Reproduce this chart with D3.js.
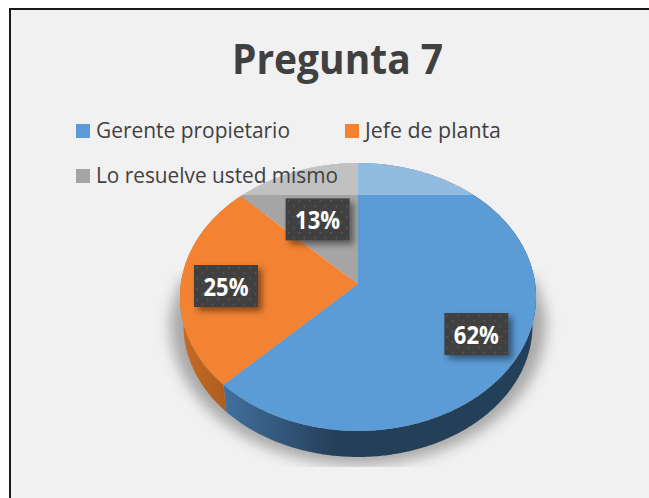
<!DOCTYPE html>
<html><head><meta charset="utf-8">
<script src="https://cdn.jsdelivr.net/npm/d3@7/dist/d3.min.js"></script>
<style>html,body{margin:0;padding:0;background:#fff}svg{display:block}text{font-family:"Open Sans",sans-serif}</style>
</head><body><svg id="c" width="649" height="498"></svg>
<script>
const title = "Pregunta 7";
const categories = ["Gerente propietario", "Jefe de planta", "Lo resuelve usted mismo"];
const values = [62.5, 25, 12.5];
const valueLabels = ["62%", "25%", "13%"];
const colors = ["#5b9bd6", "#f38232", "#a5a5a5"];

const W = 649, H = 498;
const svg = d3.select("#c");
const defs = svg.append("defs");

// background + frame
svg.append("rect").attr("width", W).attr("height", H).attr("fill", "#fff");
svg.append("rect").attr("x", 10).attr("y", 9).attr("width", W + 20).attr("height", H + 20)
  .attr("fill", "#f1f1f1").attr("stroke", "#1a1a1a").attr("stroke-width", 2);

// gradients, filters, pattern
const gb = defs.append("linearGradient").attr("id", "wallBlue").attr("gradientUnits", "userSpaceOnUse")
  .attr("x1", 224).attr("x2", 335).attr("y1", 0).attr("y2", 0);
gb.append("stop").attr("offset", 0).attr("stop-color", "#41709f");
gb.append("stop").attr("offset", 1).attr("stop-color", "#243f58");
const go = defs.append("linearGradient").attr("id", "wallOrange").attr("gradientUnits", "userSpaceOnUse")
  .attr("x1", 180).attr("x2", 228).attr("y1", 0).attr("y2", 0);
go.append("stop").attr("offset", 0).attr("stop-color", "#c66c26");
go.append("stop").attr("offset", 1).attr("stop-color", "#ad5d1e");
defs.append("filter").attr("id", "blurS").attr("x", "-20%").attr("y", "-20%").attr("width", "140%").attr("height", "140%")
  .append("feGaussianBlur").attr("stdDeviation", 7);
const fb = defs.append("filter").attr("id", "boxS").attr("x", "-30%").attr("y", "-30%").attr("width", "170%").attr("height", "180%");
fb.append("feDropShadow").attr("dx", 4).attr("dy", 4).attr("stdDeviation", 3).attr("flood-color", "#000").attr("flood-opacity", 0.45);
defs.append("clipPath").attr("id", "shClip").append("rect").attr("x", 150).attr("y", 270).attr("width", 420).attr("height", 197);
const pat = defs.append("pattern").attr("id", "dots").attr("patternUnits", "userSpaceOnUse").attr("width", 10.6).attr("height", 10.6);
pat.append("rect").attr("width", 10.6).attr("height", 10.6).attr("fill", "#404040");
[[2, 2], [7.3, 7.3]].forEach(p => pat.append("rect").attr("x", p[0]).attr("y", p[1]).attr("width", 1.6).attr("height", 1.6).attr("fill", "#5c5c5c"));

// projection: unit circle seen in perspective; the pie centre is the apex
const apexX = 358, apexY = 284, k = -0.0968;
const sx = d3.scaleLinear().domain([0, 1]).range([0, 177.2]);
const sy = d3.scaleLinear().domain([0, 1]).range([0, 132.7]);
function proj(theta, r = 1, s = 1, d = 0) {
  const u = r * Math.sin(theta), v = -r * Math.cos(theta), w = 1 + k * v;
  return [apexX + s * sx(u) / w, apexY + s * sy(v) / w + d];
}
const arcs = d3.pie().sort(null).value(d => d)(values);
const sweep = (a, b) => d3.range(a, b, 0.01).concat([b]);
const line = d3.line().curve(d3.curveLinear);
const S = 0.98, D = 29;

// shadow
const lowStart = Math.PI * 0.5, lowEnd = Math.PI * 1.5;
const shPts = sweep(lowStart, lowEnd).map(t => proj(t, 1, 1.055, 26));
svg.append("g").attr("clip-path", "url(#shClip)").append("path")
  .attr("d", line([[534, 278], ...shPts, [182, 278]]) + "Z")
  .attr("fill", "#000").attr("fill-opacity", 0.3).attr("filter", "url(#blurS)");

// walls
const wallFill = ["url(#wallBlue)", "url(#wallOrange)", colors[2]];
arcs.forEach((a, i) => {
  const ang = sweep(a.startAngle, a.endAngle);
  const pts = ang.map(t => proj(t)).concat(ang.slice().reverse().map(t => proj(t, 1, S, D)));
  svg.append("path").attr("d", line(pts) + "Z").attr("fill", wallFill[i]);
});

// top faces
arcs.forEach((a, i) => {
  const pts = [[apexX, apexY], ...sweep(a.startAngle, a.endAngle).map(t => proj(t))];
  svg.append("path").attr("d", line(pts) + "Z").attr("fill", colors[i]);
});

// data labels
const labelR = [0.71, 0.745, 0.58], labelDx = [-1, 0, -3], labelDy = [13, 2, 3];
const boxW = 64, boxH = 42;
arcs.forEach((a, i) => {
  const c = proj((a.startAngle + a.endAngle) / 2, labelR[i]);
  const g = svg.append("g").attr("transform", `translate(${c[0] + labelDx[i]},${c[1] + labelDy[i]})`);
  g.append("rect").attr("x", -boxW / 2).attr("y", -boxH / 2).attr("width", boxW).attr("height", boxH)
    .attr("fill", "url(#dots)").attr("filter", "url(#boxS)");
  g.append("text").attr("text-anchor", "middle").attr("y", 9.5).attr("fill", "#fff")
    .attr("font-size", 25.5).attr("font-weight", 700)
    .attr("textLength", 45).attr("lengthAdjust", "spacingAndGlyphs").text(valueLabels[i]);
});

// translucent legend area
svg.append("rect").attr("x", 66).attr("y", 112).attr("width", 480).attr("height", 83)
  .attr("fill", "#f1f1f1").attr("fill-opacity", 0.37);

// title
svg.append("text").attr("x", 337.5).attr("y", 74).attr("text-anchor", "middle")
  .attr("font-size", 41).attr("font-weight", 700).attr("fill", "#404040")
  .attr("textLength", 211).attr("lengthAdjust", "spacingAndGlyphs").text(title);

// legend
const legX = [76, 345, 76], legY = [124, 124, 169], legW = [194, 136, 242];
categories.forEach((c, i) => {
  svg.append("rect").attr("x", legX[i]).attr("y", legY[i]).attr("width", 14).attr("height", 14).attr("fill", colors[i]);
  svg.append("text").attr("x", legX[i] + 20).attr("y", legY[i] + 14).attr("font-size", 21).attr("fill", "#404040")
    .attr("textLength", legW[i]).attr("lengthAdjust", "spacingAndGlyphs").text(c);
});
</script></body></html>
